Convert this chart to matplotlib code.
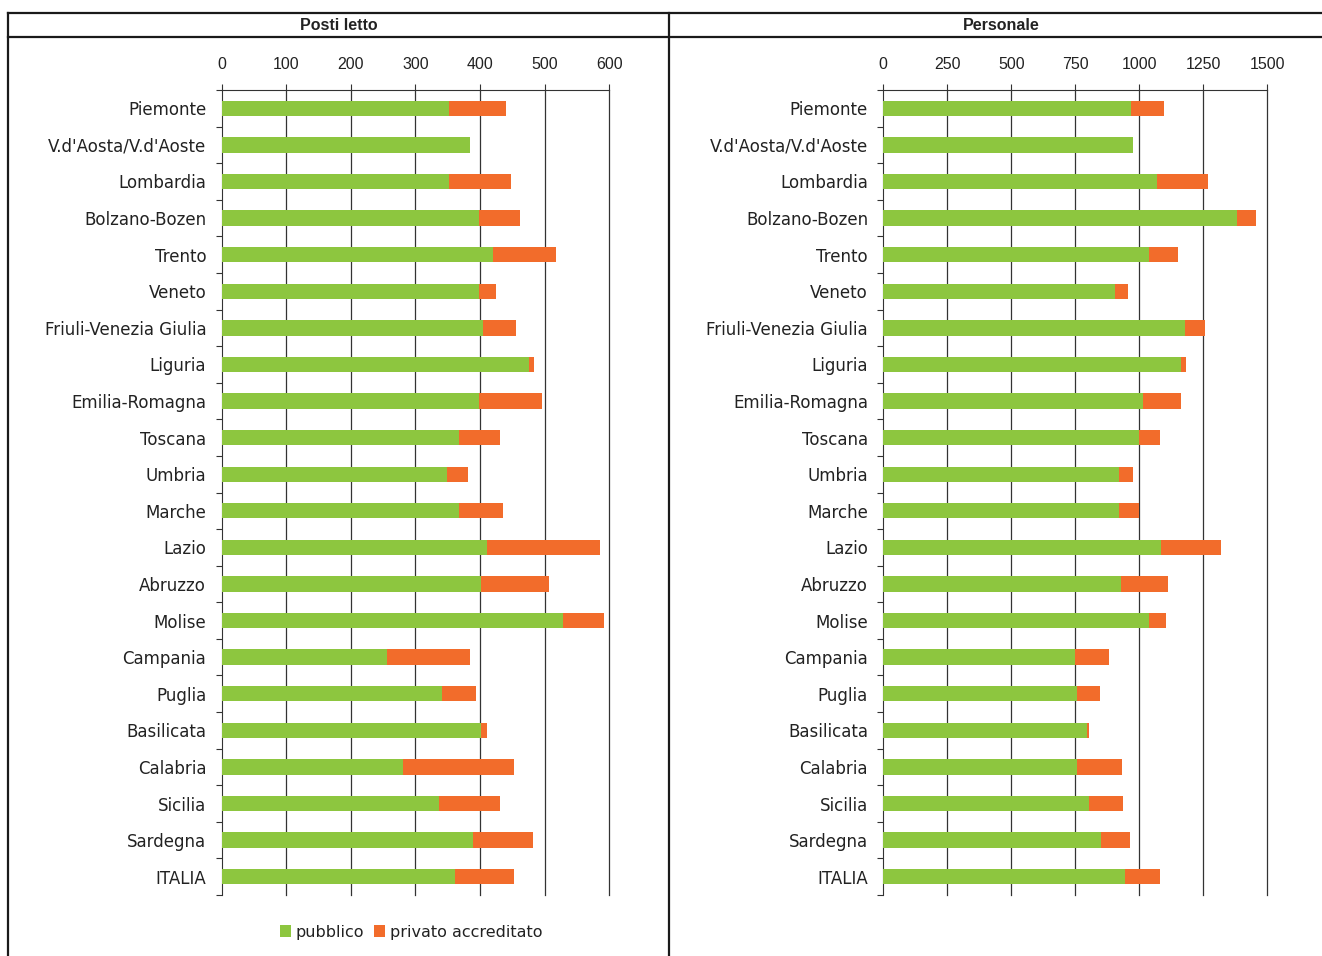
import matplotlib.pyplot as plt
from matplotlib.lines import Line2D
from matplotlib.patches import Patch

regioni = ["Piemonte", "V.d'Aosta/V.d'Aoste", "Lombardia", "Bolzano-Bozen", "Trento",
           "Veneto", "Friuli-Venezia Giulia", "Liguria", "Emilia-Romagna", "Toscana",
           "Umbria", "Marche", "Lazio", "Abruzzo", "Molise", "Campania", "Puglia",
           "Basilicata", "Calabria", "Sicilia", "Sardegna", "ITALIA"]

# Posti letto (per 100.000 ab.)
letti_pubblico = [352, 384, 352, 398, 420, 398, 404, 475, 398, 367, 348, 367,
                  410, 401, 528, 256, 341, 401, 280, 336, 389, 361]
letti_privato = [88, 0, 95, 63, 97, 26, 51, 9, 97, 63, 33, 68,
                 175, 105, 63, 129, 52, 9, 172, 94, 92, 91]

# Personale
pers_pubblico = [968, 975, 1069, 1382, 1038, 905, 1178, 1163, 1015, 999, 921, 921,
                 1085, 929, 1038, 749, 757, 796, 757, 804, 851, 945]
pers_privato = [129, 0, 199, 74, 113, 51, 79, 19, 148, 82, 54, 78,
                234, 183, 66, 133, 90, 8, 176, 133, 113, 136]

legenda = ["pubblico", "privato accreditato"]
verde = '#8dc63f'
arancio = '#f26c2b'

plt.rcParams['font.family'] = ['Liberation Sans', 'DejaVu Sans']

W, H = 1322, 956
fig = plt.figure(figsize=(W / 100, H / 100), dpi=100)


def px_rect(x0, x1, y0, y1):
    return [x0 / W, 1 - y1 / H, (x1 - x0) / W, (y1 - y0) / H]


def pannello(ax, pubblico, privato, ticks):
    pos = list(range(len(regioni)))
    ax.barh(pos, pubblico, height=0.42, color=verde, zorder=3)
    ax.barh(pos, privato, left=pubblico, height=0.42, color=arancio, zorder=3)
    ax.set_ylim(len(regioni) - 0.5, -0.5)
    ax.set_xlim(ticks[0], ticks[-1])
    ax.set_xticks(ticks)
    ax.set_xticklabels([str(t) for t in ticks])
    ax.xaxis.tick_top()
    ax.tick_params(axis='x', direction='out', length=4, width=0.8, color='#333333',
                   pad=9, labelsize=11.5, labelcolor='#222222')
    ax.set_yticks(pos)
    ax.set_yticklabels(regioni, family='DejaVu Sans', fontsize=12)
    ax.tick_params(axis='y', which='major', length=0, pad=11, labelcolor='#222222')
    ax.set_yticks([p - 0.5 for p in pos] + [len(regioni) - 0.5], minor=True)
    ax.tick_params(axis='y', which='minor', direction='out', length=4, width=0.8,
                   color='#333333')
    # griglia verticale, anche sull'ultimo valore
    for t in ticks[1:]:
        ax.axvline(t, color='#333333', linewidth=0.9, zorder=0, clip_on=False)
    for s in ['right', 'bottom']:
        ax.spines[s].set_visible(False)
    ax.spines['top'].set_color('#333333')
    ax.spines['left'].set_color('#333333')
    ax.spines['top'].set_linewidth(0.8)
    ax.spines['left'].set_linewidth(0.8)


ax1 = fig.add_axes(px_rect(221.5, 609.5, 90, 895))
pannello(ax1, letti_pubblico, letti_privato, [0, 100, 200, 300, 400, 500, 600])

ax2 = fig.add_axes(px_rect(883.3, 1267.3, 90, 895))
pannello(ax2, pers_pubblico, pers_privato, [0, 250, 500, 750, 1000, 1250, 1500])

# cornice tipo tabella
lw = 1.6
for (x0, y0, x1, y1) in [(8, 13, W, 13), (8, 37, W, 37), (8, 13, 8, H), (669, 13, 669, H)]:
    fig.add_artist(Line2D([x0 / W, x1 / W], [1 - y0 / H, 1 - y1 / H],
                          color='#1a1a1a', linewidth=lw))

fig.text(339 / W, 1 - 25 / H, "Posti letto", ha='center', va='center',
         fontsize=11.5, fontweight='bold', color='#222222')
fig.text(1001 / W, 1 - 25 / H, "Personale", ha='center', va='center',
         fontsize=11.5, fontweight='bold', color='#222222')

handles = [Patch(facecolor=verde), Patch(facecolor=arancio)]
fig.legend(handles, legenda, loc='center left', bbox_to_anchor=(280 / W, 1 - 932 / H),
           ncol=2, frameon=False, prop={'family': 'DejaVu Sans', 'size': 11.5},
           handlelength=0.7, handleheight=0.7, handletextpad=0.3, columnspacing=0.6,
           borderpad=0, borderaxespad=0, labelcolor='#222222')

fig.savefig('out.png', dpi=100)
